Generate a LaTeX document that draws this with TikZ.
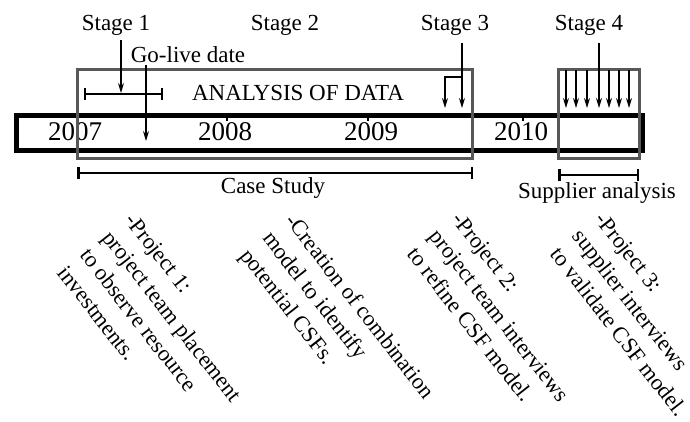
\documentclass[tikz,border=0pt]{standalone}
\usepackage{fontspec}
\setmainfont{Liberation Serif}
\usetikzlibrary{arrows.meta}
\definecolor{boxgray}{RGB}{88,88,88}
\begin{document}
\begin{tikzpicture}[x=1pt,y=-1pt,
  lbl/.style={inner sep=0pt, font=\fontsize{23}{28}\selectfont},
  yr/.style={inner sep=0pt, font=\fontsize{27}{30}\selectfont},
  note/.style={inner sep=0pt, font=\fontsize{22.5}{28.5}\selectfont, align=left, rotate=-52, anchor=north west},
  timeline/.style={draw=black, line width=5pt, inner sep=0pt},
  gbox/.style={draw=boxgray, line width=3pt, inner sep=0pt},
  span/.style={draw=black, line width=2.5pt, {Bar[width=12pt]}-{Bar[width=12pt]}},
  arr/.style={draw=black, line width=1.1pt, -{Stealth[length=10pt,width=6pt]}},
  tick/.style={draw=black, line width=2pt},
]
\useasboundingbox (0,0) rectangle (690,422);

% timeline
\node[timeline, minimum width=625.5pt, minimum height=35pt] (tl) at (329.25,133) {};
\node[yr] (y7) at (75,132) {2007};
\node[yr] (y8) at (225,132) {2008};
\node[yr] (y9) at (371,132) {2009};
\node[yr] (y10) at (521,132) {2010};
\coordinate (t8a) at (227,117); \coordinate (t8b) at (227,121);
\coordinate (t9a) at (368,117); \coordinate (t9b) at (368,121);
\coordinate (t10a) at (523,117); \coordinate (t10b) at (523,121);
\draw[tick] (t8a) -- (t8b);
\draw[tick] (t9a) -- (t9b);
\draw[tick] (t10a) -- (t10b);

% boxes
\node[gbox, minimum width=395pt, minimum height=89pt] (ana) at (274.5,114.5) {};
\node[gbox, minimum width=81pt, minimum height=89pt] (sup) at (598.5,114.5) {};
\node[lbl] (anatext) at (298,93) {ANALYSIS OF DATA};

% stage labels
\node[lbl] (s1) at (116,25) {Stage 1};
\node[lbl] (s2) at (285,25) {Stage 2};
\node[lbl] (s3) at (455,25) {Stage 3};
\node[lbl] (s4) at (589,25) {Stage 4};
\node[lbl] (gl) at (188,55) {Go-live date};

% stage 1 span and arrows
\coordinate (b1a) at (84,94); \coordinate (b1b) at (163,94);
\draw[span, line width=2pt] (b1a) -- (b1b);
\coordinate (s1a) at (121,40); \coordinate (s1b) at (121,93);
\draw[arr] (s1a) -- (s1b);
\coordinate (gla) at (146,65); \coordinate (glb) at (146,141);
\draw[arr] (gla) -- (glb);

% stage 3 arrows
\coordinate (s3a) at (462,43); \coordinate (s3b) at (462,108);
\coordinate (s3c) at (462,77); \coordinate (s3d) at (445,77); \coordinate (s3e) at (445,108);
\draw[arr] (s3a) -- (s3b);
\draw[arr] (s3c) -- (s3d) -- (s3e);

% stage 4 arrows
\coordinate (s4a) at (599,43); \coordinate (s4b) at (599,108);
\draw[arr] (s4a) -- (s4b);
\foreach \xx in {566,576,587,609,619,629}{
  \coordinate (fa) at (\xx,70); \coordinate (fb) at (\xx,108);
  \draw[arr] (fa) -- (fb);
}

% spans
\coordinate (csa) at (77,173); \coordinate (csb) at (473,173);
\draw[span] (csa) -- (csb);
\node[lbl] (cs) at (273,188) {Case Study};
\coordinate (spa) at (558,175); \coordinate (spb) at (639,175);
\draw[span] (spa) -- (spb);
\node[lbl] (sa) at (597,193) {Supplier analysis};

% rotated notes
\node[note] (n1) at (136,211) {-Project 1:\\ project team placement\\ to observe resource\\ investments.};
\node[note] (n2) at (297,211) {-Creation of combination\\ model to identify\\ potential CSFs.};
\node[note] (n3) at (463,210) {-Project 2:\\ project team interviews\\ to refine CSF model.};
\node[note] (n4) at (606,210) {-Project 3:\\ supplier interviews\\ to validate CSF model.};
\end{tikzpicture}
\end{document}
